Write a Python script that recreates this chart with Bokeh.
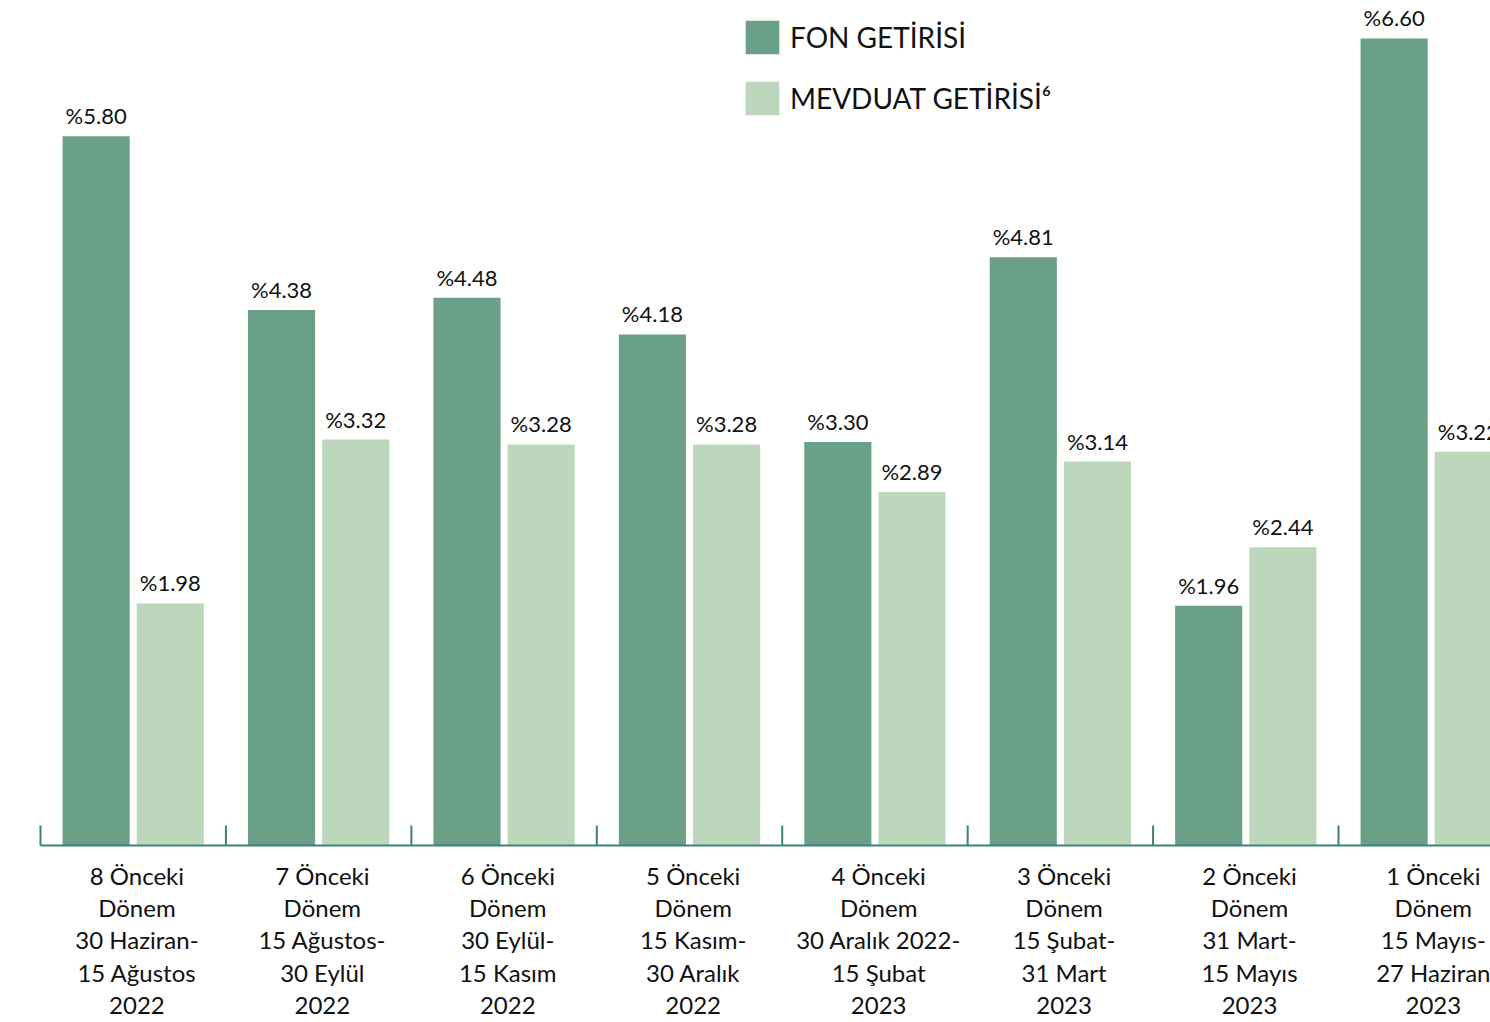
from bokeh.plotting import figure
from bokeh.models import (ColumnDataSource, Range1d, LinearAxis, FixedTicker,
                          Legend, LegendItem)
from bokeh.core.properties import value
from bokeh.embed import file_html
from bokeh.resources import INLINE

# ---- data ----
categories = [
    "8 Önceki\nDönem\n30 Haziran-\n15 Ağustos\n2022",
    "7 Önceki\nDönem\n15 Ağustos-\n30 Eylül\n2022",
    "6 Önceki\nDönem\n30 Eylül-\n15 Kasım\n2022",
    "5 Önceki\nDönem\n15 Kasım-\n30 Aralık\n2022",
    "4 Önceki\nDönem\n30 Aralık 2022-\n15 Şubat\n2023",
    "3 Önceki\nDönem\n15 Şubat-\n31 Mart\n2023",
    "2 Önceki\nDönem\n31 Mart-\n15 Mayıs\n2023",
    "1 Önceki\nDönem\n15 Mayıs-\n27 Haziran\n2023",
]
fon = [5.80, 4.38, 4.48, 4.18, 3.30, 4.81, 1.96, 6.60]
mevduat = [1.98, 3.32, 3.28, 3.28, 2.89, 3.14, 2.44, 3.22]
series_names = ["FON GETİRİSİ", "MEVDUAT GETİRİSİ⁶"]

DARK = "#6a9f88"
LIGHT = "#bdd7bc"
AXIS = "#3f8176"
FONT = "Lato"

W, H = 1490, 1022
PX_PER_CAT = 185.43
X0_PX = 40.0
n = len(categories)
centers = [i + 0.5 for i in range(n)]

x_start = -X0_PX / PX_PER_CAT
p = figure(width=W, height=H, output_backend="svg", toolbar_location=None,
           x_range=Range1d(x_start, x_start + W / PX_PER_CAT),
           y_range=Range1d(0, 846 / 122.42),
           y_axis_location=None, x_axis_location=None,
           min_border_left=0, min_border_right=0, min_border_top=0, min_border_bottom=0)
p.outline_line_color = None
p.xgrid.visible = False
p.ygrid.visible = False
p.background_fill_color = "white"

src_f = ColumnDataSource(dict(x=[c - 0.2 for c in centers], top=fon,
                              lab=["%%%.2f" % v for v in fon]))
src_m = ColumnDataSource(dict(x=[c + 0.2 for c in centers], top=mevduat,
                              lab=["%%%.2f" % v for v in mevduat]))

r1 = p.vbar(x="x", top="top", bottom=0, width=0.362, source=src_f,
            fill_color=DARK, line_color=None)
r2 = p.vbar(x="x", top="top", bottom=0, width=0.362, source=src_m,
            fill_color=LIGHT, line_color=None)

for s in (src_f, src_m):
    p.text(x="x", y="top", text="lab", source=s, text_align="center",
           text_baseline="bottom", y_offset=-7, text_font=value(FONT),
           text_font_size="22px", text_color="#111111")

# boundary ticks
bounds = list(range(n + 1))
p.segment(x0=bounds, y0=[0] * len(bounds), x1=bounds, y1=[20 / 122.42] * len(bounds),
          line_color=AXIS, line_width=2)

ax = LinearAxis(ticker=FixedTicker(ticks=[c + 0.02 for c in centers]),
                major_label_overrides={c + 0.02: lab for c, lab in zip(centers, categories)},
                bounds=(0, n), axis_line_color=AXIS, axis_line_width=2,
                major_tick_in=0, major_tick_out=0, minor_tick_in=0, minor_tick_out=0,
                major_label_standoff=15,
                major_label_text_font=FONT, major_label_text_font_size="24px",
                major_label_text_color="#111111", major_label_text_line_height=1.12)
p.add_layout(ax, "below")

legend = Legend(items=[LegendItem(label=series_names[0], renderers=[r1]),
                       LegendItem(label=series_names[1], renderers=[r2])],
                location=(741, 726), orientation="vertical",
                glyph_width=42, glyph_height=42, spacing=19, padding=0, margin=0,
                label_standoff=7, label_text_font=FONT, label_text_font_size="28px",
                label_text_color="#111111", border_line_color=None,
                background_fill_alpha=0, label_height=42)
p.add_layout(legend)

open("out.html", "w").write(file_html(p, INLINE))
